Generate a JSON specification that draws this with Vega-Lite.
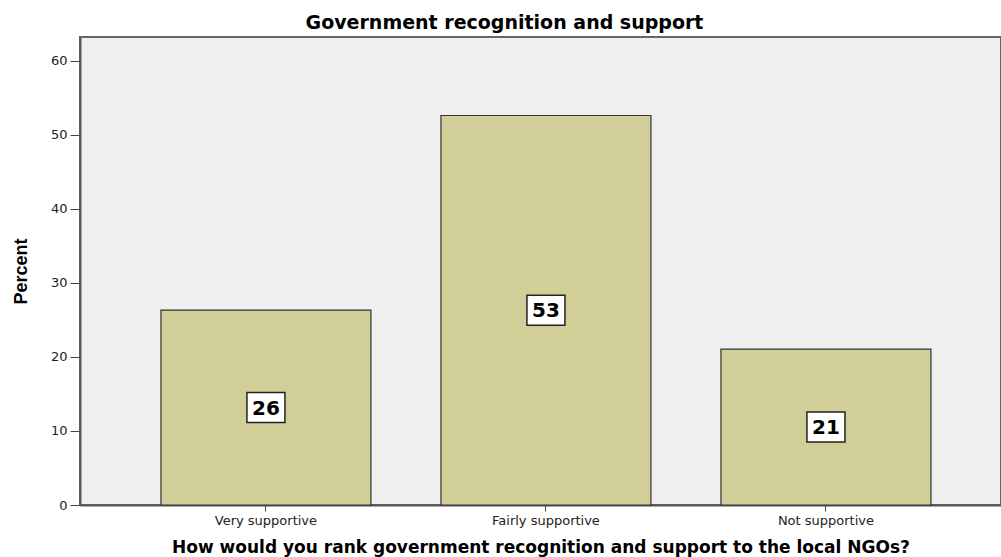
{
  "$schema": "https://vega.github.io/schema/vega-lite/v6.json",
  "width": 921,
  "height": 468,
  "autosize": {"type": "none"},
  "padding": {"left": 80, "top": 37, "right": 0, "bottom": 52},
  "background": "white",
  "title": {
    "text": "Government recognition and support",
    "font": "DejaVu Sans",
    "fontSize": 19,
    "fontWeight": "bold",
    "color": "black",
    "anchor": "middle",
    "dx": -36,
    "offset": 4
  },
  "config": {
    "view": {"fill": "#EFEFEF", "stroke": "#666666", "strokeWidth": 2},
    "axis": {"labelFont": "DejaVu Sans", "titleFont": "DejaVu Sans", "labelColor": "#222222", "titleColor": "black", "grid": false}
  },
  "data": {
    "values": [
      {"category": "Very supportive", "percent": 26.32},
      {"category": "Fairly supportive", "percent": 52.63},
      {"category": "Not supportive", "percent": 21.05}
    ]
  },
  "encoding": {
    "x": {
      "field": "category",
      "type": "nominal",
      "sort": null,
      "scale": {"paddingInner": 0.25, "paddingOuter": 0.2696, "align": 0.536},
      "axis": {
        "title": "How would you rank government recognition and support to the local NGOs?",
        "titleFontSize": 17,
        "titleFontWeight": "bold",
        "titlePadding": 12,
        "labelAngle": 0,
        "labelFontSize": 13,
        "labelPadding": 3,
        "tickSize": 6,
        "tickColor": "#444444",
        "domainColor": "#555555",
        "domainWidth": 2
      }
    }
  },
  "layer": [
    {
      "mark": {"type": "bar", "fill": "#D2CE98", "stroke": "#333333", "strokeWidth": 1.2},
      "encoding": {
        "y": {
          "field": "percent",
          "type": "quantitative",
          "scale": {"domain": [0, 63.24], "nice": false},
          "axis": {
            "title": "Percent",
            "titleFont": "Liberation Sans",
            "titleFontSize": 18,
            "titleFontWeight": "bold",
            "titlePadding": 20,
            "values": [0, 10, 20, 30, 40, 50, 60],
            "labelFontSize": 13,
            "labelPadding": 3,
            "tickSize": 10,
            "tickColor": "#444444",
            "domainColor": "#555555",
            "domainWidth": 2
          }
        }
      }
    },
    {
      "mark": {"type": "point", "shape": "M-1.267,-1L1.267,-1L1.267,1L-1.267,1Z", "size": 900, "filled": true, "fill": "white", "stroke": "#222222", "strokeWidth": 1.5, "opacity": 1},
      "encoding": {
        "y": {"field": "percent", "type": "quantitative", "scale": {"domain": [0, 126.48], "nice": false}, "axis": null}
      }
    },
    {
      "mark": {"type": "text", "font": "DejaVu Sans", "fontSize": 20, "fontWeight": "bold", "color": "black", "align": "center", "baseline": "middle", "dy": 1},
      "encoding": {
        "y": {"field": "percent", "type": "quantitative", "scale": {"domain": [0, 126.48], "nice": false}, "axis": null},
        "text": {"field": "percent", "type": "quantitative", "format": ".0f"}
      }
    }
  ],
  "resolve": {"scale": {"y": "independent"}}
}
